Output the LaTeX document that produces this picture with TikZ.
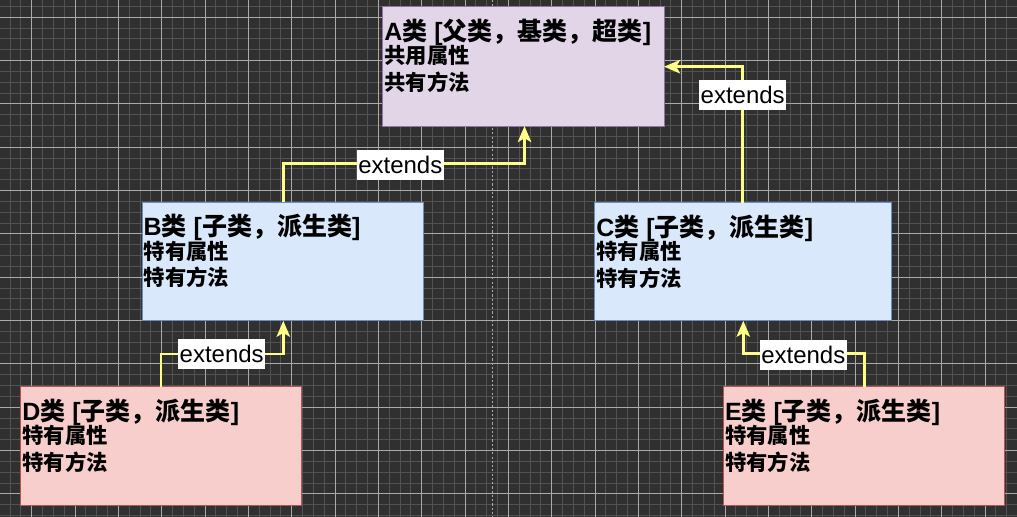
\documentclass[tikz,border=0pt]{standalone}
\usepackage{fontspec}
\setmainfont{Liberation Sans}
\newfontfamily\cjk{Noto Sans CJK SC}
\usetikzlibrary{arrows.meta,fit}
\newcommand\cn[1]{{\cjk\bfseries #1}}
\definecolor{bgc}{RGB}{48,48,48}
\definecolor{minorc}{RGB}{82,82,82}
\definecolor{majorc}{RGB}{170,170,170}
\definecolor{yel}{RGB}{255,255,136}
\definecolor{aF}{HTML}{E1D5E7}\definecolor{aS}{HTML}{9673A6}
\definecolor{bF}{HTML}{DAE8FC}\definecolor{bS}{HTML}{6C8EBF}
\definecolor{dF}{HTML}{F8CECC}\definecolor{dS}{HTML}{B85450}
\tikzset{
  minorgrid/.style={draw=minorc,line width=0.75pt},
  majorgrid/.style={draw=majorc,line width=0.75pt},
  pagebreak/.style={draw=majorc,line width=1.1pt,dash pattern=on 1.6pt off 1.6pt},
  cbox/.style={rectangle,inner sep=0pt,outer sep=0pt,line width=0.75pt},
  boxA/.style={cbox,fill=aF,draw=aS},
  boxB/.style={cbox,fill=bF,draw=bS},
  boxD/.style={cbox,fill=dF,draw=dS},
  tline/.style={anchor=base west,inner sep=0pt,xshift=1.1pt,yshift=-25.3pt,font=\fontsize{18.75}{22}\selectfont\bfseries},
  bline/.style={anchor=base west,inner sep=0pt,xshift=1.1pt,yshift=-42.8pt,font=\fontsize{16}{19}\selectfont\bfseries},
  cline/.style={anchor=base west,inner sep=0pt,xshift=1.1pt,yshift=-62.6pt,font=\fontsize{16}{19}\selectfont\bfseries},
  conn/.style={draw=yel,line width=2.2pt,-{Stealth[length=12pt,width=10pt,inset=2.8pt]}},
  lbl/.style={fill=white,font=\fontsize{18}{21}\selectfont,inner xsep=1pt,inner ysep=0pt,minimum height=22.5pt,text=black}
}
\begin{document}
\begin{tikzpicture}[x=0.75pt,y=-0.75pt]
\useasboundingbox (0,0) rectangle (1017,517);
\fill[bgc] (0,0) rectangle (1017,517);
\begin{scope}
\clip (0,0) rectangle (1017,517);
\foreach \m in {-3,...,91} \draw[minorgrid] ({31.7+10.8333*\m},0) -- ({31.7+10.8333*\m},517);
\foreach \m in {-1,...,46} \draw[minorgrid] (0,{17.3+10.8333*\m}) -- (1017,{17.3+10.8333*\m});
\foreach \k in {-1,...,23} \draw[majorgrid] ({31.7+43.3333*\k},0) -- ({31.7+43.3333*\k},517);
\foreach \k in {0,...,11} \draw[majorgrid] (0,{17.3+43.3333*\k}) -- (1017,{17.3+43.3333*\k});
\draw[pagebreak] (492.7,0) -- (492.7,517);
\end{scope}

% class boxes
\node[boxA,fit={(382.7,6.7) (664,126)}] (A) {};
\node[boxB,fit={(142,202) (423.3,320.7)}] (B) {};
\node[boxB,fit={(594.7,202.7) (891.3,320.7)}] (C) {};
\node[boxD,fit={(20.7,386.7) (301.7,505.7)}] (D) {};
\node[boxD,fit={(723.3,386.7) (1004.7,505)}] (E) {};

% texts
\node[tline] (At) at (A.north west) {A\cn{类} [\cn{父类，基类，超类}]};
\node[bline] (Ab) at (A.north west) {\cn{共用属性}};
\node[cline] (Ac) at (A.north west) {\cn{共有方法}};
\node[tline] (Bt) at (B.north west) {B\cn{类} [\cn{子类，派生类}]};
\node[bline] (Bb) at (B.north west) {\cn{特有属性}};
\node[cline] (Bc) at (B.north west) {\cn{特有方法}};
\node[tline] (Ct) at (C.north west) {C\cn{类} [\cn{子类，派生类}]};
\node[bline] (Cb) at (C.north west) {\cn{特有属性}};
\node[cline] (Cc) at (C.north west) {\cn{特有方法}};
\node[tline] (Dt) at (D.north west) {D\cn{类} [\cn{子类，派生类}]};
\node[bline] (Db) at (D.north west) {\cn{特有属性}};
\node[cline] (Dc) at (D.north west) {\cn{特有方法}};
\node[tline] (Et) at (E.north west) {E\cn{类} [\cn{子类，派生类}]};
\node[bline] (Eb) at (E.north west) {\cn{特有属性}};
\node[cline] (Ec) at (E.north west) {\cn{特有方法}};

% bend points
\coordinate (ba1) at (283.3,163.5);
\coordinate (ba2) at (524.5,163.5);
\coordinate (ca1) at (742.7,66.7);
\coordinate (db1) at (161,354);
\coordinate (db2) at (283.3,354);
\coordinate (ec1) at (864.3,353.5);
\coordinate (ec2) at (743.3,353.5);

% connectors
\draw[conn] (B.north -| ba1) -- (ba1) -- (ba2) -- (A.south -| ba2);
\draw[conn] (C.north -| ca1) -- (ca1) -- (A.east |- ca1);
\draw[conn] (D.north -| db1) -- (db1) -- (db2) -- (B.south -| db2);
\draw[conn] (E.north -| ec1) -- (ec1) -- (ec2) -- (C.south -| ec2);

% labels
\node[lbl] (l1) at (400.3,165) {extends};
\node[lbl] (l2) at (742.7,95) {extends};
\node[lbl] (l3) at (221.7,354) {extends};
\node[lbl] (l4) at (803.3,354.5) {extends};
\end{tikzpicture}
\end{document}
